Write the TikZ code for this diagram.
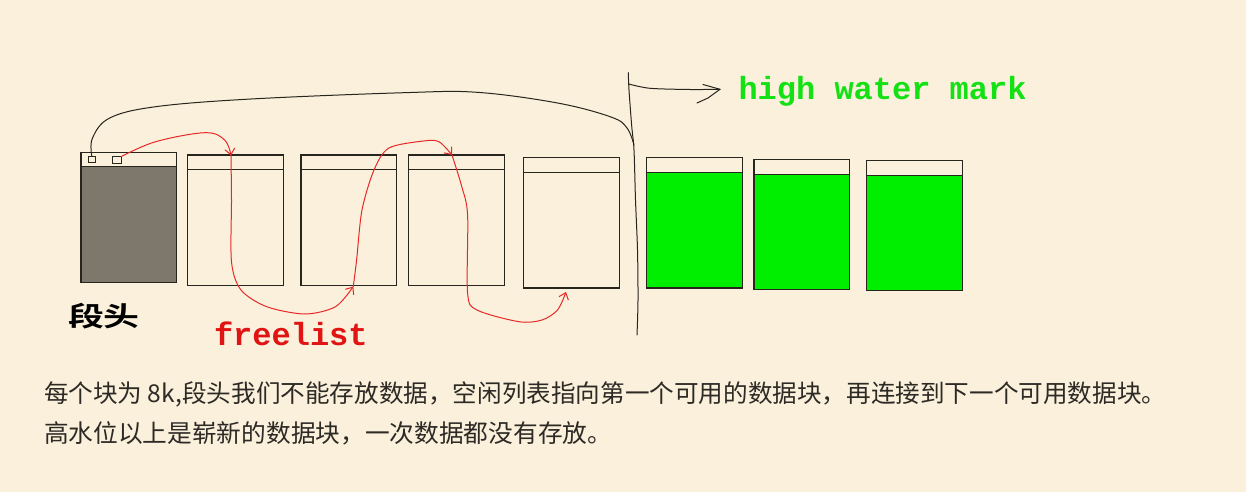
\documentclass[tikz,border=0pt]{standalone}
\usepackage{graphicx}
\usepackage{fontspec}
\newfontfamily\cjk{Noto Sans CJK SC}[BoldFont={Noto Sans CJK SC Bold}]
\newfontfamily\mono{Liberation Mono}[BoldFont={Liberation Mono Bold}]
\usetikzlibrary{arrows.meta}
\definecolor{bgc}{RGB}{250,240,219}
\definecolor{segray}{RGB}{126,119,107}
\definecolor{fgreen}{RGB}{0,238,0}
\definecolor{tgreen}{RGB}{20,225,20}
\definecolor{fred}{RGB}{225,20,20}
\definecolor{cred}{RGB}{232,40,40}
\definecolor{edgec}{RGB}{40,36,30}
\definecolor{txt}{RGB}{45,42,38}
\tikzset{
  blk/.style={anchor=north west, inner sep=0pt, outer sep=0pt},
  edge/.style={draw=edgec, line width=1.2pt},
  sqr/.style={draw=edgec, line width=0.9pt, anchor=north west, inner sep=0pt, outer sep=0pt},
  redline/.style={draw=cred, line width=1pt, line cap=round, line join=round},
  blkline/.style={draw=edgec, line width=1pt, line cap=round, line join=round},
  redtip/.style={-{Straight Barb[length=6pt,width=10pt,line width=1pt]}},
  lbl/.style={anchor=base west, inner sep=0pt, outer sep=0pt},
}
\newcommand\drawblock[7]{%
  \node[blk, minimum width=#4pt, minimum height=#5pt, fill=#7] (#1) at (#2,#3) {};
  \fill[bgc] (#1.north west) rectangle ([yshift=-#6pt]#1.north east);
  \draw[edge] ([yshift=-#6pt]#1.north west) -- ([yshift=-#6pt]#1.north east);
  \draw[edge] (#1.north west) rectangle (#1.south east);
}
\begin{document}
\begin{tikzpicture}[x=1pt,y=-1pt]
\fill[bgc] (0,0) rectangle (1246,492);
\useasboundingbox (0,0) rectangle (1246,492);

% blocks
\drawblock{b1}{81}{152.7}{95.8}{130}{14}{segray}
\drawblock{b2}{187.5}{155}{95.6}{130.3}{14.3}{bgc}
\drawblock{b3}{301}{155}{95.8}{130.3}{14.3}{bgc}
\drawblock{b4}{408.6}{155}{95.8}{130.3}{14.3}{bgc}
\drawblock{b5}{523.5}{157.5}{95.7}{130.5}{14.8}{bgc}
\drawblock{g1}{646.7}{157.7}{95.6}{130.3}{15}{fgreen}
\drawblock{g2}{754}{159.7}{95.7}{130}{14.6}{fgreen}
\drawblock{g3}{866.7}{160.3}{95.6}{130}{15}{fgreen}

% small squares in segment header
\node[sqr, minimum width=7pt, minimum height=6.7pt] (sq1) at (88.3,156) {};
\node[sqr, minimum width=8.7pt, minimum height=6.6pt] (sq2) at (112.3,156.7) {};

% high water mark line
\coordinate (vtop) at (628.3,72.7);
\coordinate (vbot) at (637,335);
\draw[blkline] plot[smooth, tension=0.5] coordinates {(vtop) (629,90) (631.7,126) (634,150) (635.5,200) (637.5,250) (638,300) (vbot)};

% black curve from header to the mark
\coordinate (merge) at (634,145);
\draw[blkline] plot[smooth, tension=0.6] coordinates {(sq1.north) (92.5,138) (109.7,118) (155.7,106.7) (251,99) (404,92.7) (477,92.3) (557.5,103) (611,117) (627,128) (merge)};

% arrow to label
\coordinate (hstart) at (628.8,84);
\coordinate (htip) at (720,89.3);
\draw[blkline] plot[smooth, tension=0.5] coordinates {(hstart) (650,88.3) (690,89.5) (htip)};
\draw[blkline] (htip) -- (703,84.5);
\draw[blkline] (htip) -- (708,98) -- (697,103);

% freelist red chain
\coordinate (t2) at (231,155.5);
\coordinate (t3) at (353.3,286.5);
\coordinate (t4) at (452,155);
\coordinate (t5) at (566,292);
\draw[redline, redtip] plot[smooth, tension=0.6] coordinates {(sq2.north east) (155.7,141.7) (205,132.7) (224.6,140) (t2)};
\draw[redline, redtip] plot[smooth, tension=0.5] coordinates {(t2) (231.5,200) (231.5,262) (241,290) (266.7,306.7) (305,314) (335.5,306.7) (t3)};
\draw[redline, redtip] plot[smooth, tension=0.5] coordinates {(t3) (356.6,260) (362,210) (374,170) (389,148) (423.6,141) (438.9,141.7) (t4)};
\draw[redline, redtip] plot[smooth, tension=0.5] coordinates {(t4) (461.8,186.7) (467.6,215) (467.6,293) (477,310) (519,321.7) (542,320) (557.5,310) (t5)};

% labels
\node[lbl, font=\mono\bfseries\fontsize{32}{32}\selectfont, text=tgreen] (hwm) at (738.5,99.5) {high water mark};
\node[lbl, font=\mono\bfseries\fontsize{32}{32}\selectfont, text=fred] (fl) at (214,345) {freelist};
\node[lbl, font=\cjk\bfseries\fontsize{27}{27}\selectfont, text=black] (dt) at (68,326) {\scalebox{1.33}[1]{段头}};

\node[lbl, font=\cjk\fontsize{24.6}{24.6}\selectfont, text=txt] (l1) at (44,402) {每个块为 8k,段头我们不能存放数据，空闲列表指向第一个可用的数据块，再连接到下一个可用数据块。};
\node[lbl, font=\cjk\fontsize{24.7}{24.7}\selectfont, text=txt] (l2) at (44,442) {高水位以上是崭新的数据块，一次数据都没有存放。};
\end{tikzpicture}
\end{document}
